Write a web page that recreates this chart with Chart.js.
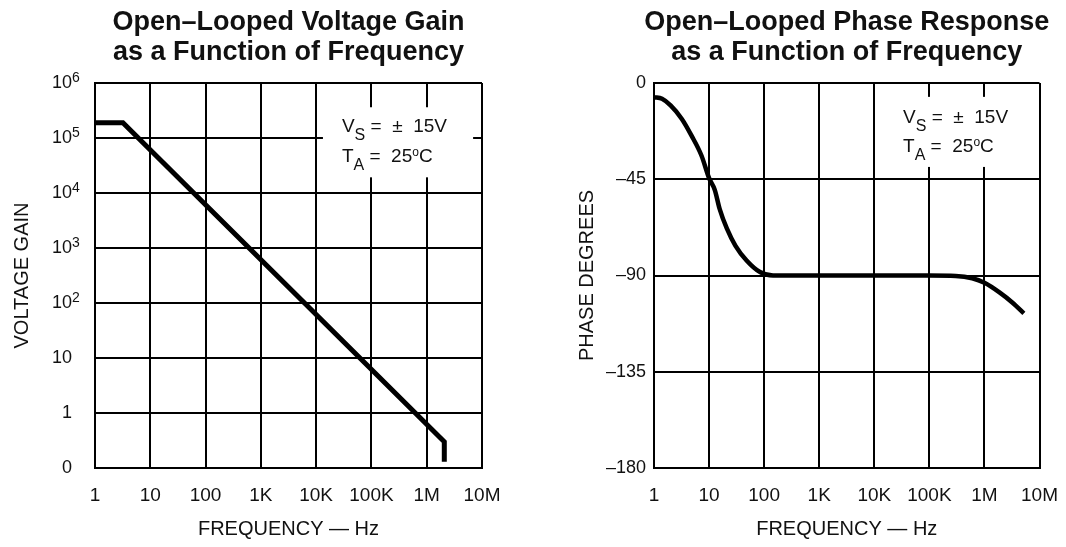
<!DOCTYPE html>
<html><head><meta charset="utf-8">
<script src="https://cdn.jsdelivr.net/npm/chart.js@4.4.0/dist/chart.umd.min.js"></script>
<style>
html,body{margin:0;padding:0;background:#fff;width:1066px;height:547px;overflow:hidden;position:relative;}
#c1{position:absolute;left:0;top:0;}
#c2{position:absolute;left:560px;top:0;}
</style></head><body>
<canvas id="c1" width="540" height="547"></canvas>
<canvas id="c2" width="514" height="547"></canvas>
<script>
// ---- data ----
const freqTicks = [1, 10, 100, 1e3, 1e4, 1e5, 1e6, 1e7];
const freqTickLabels = ['1', '10', '100', '1K', '10K', '100K', '1M', '10M'];
const gainTicks = [0.1, 1, 10, 100, 1e3, 1e4, 1e5, 1e6];
const gainTickLabels = ['0', '1', '10', '10', '10', '10', '10', '10'];
const gainTickExponents = ['', '', '', '2', '3', '4', '5', '6'];
const gainFreq = [1, 3.2, 2.08e6, 2.08e6];
const gainValues = [1.9e5, 1.9e5, 0.3, 0.13];
const phaseTicks = [0, -45, -90, -135, -180];
const phaseTickLabels = ['0', '–45', '–90', '–135', '–180'];
const phaseFreq = [1, 1.4, 2, 3.2, 4.8, 7.3, 10, 12.7, 15.6, 21, 30, 48, 84, 145, 1000, 10000, 100000, 300000, 600000, 1000000, 1900000, 3200000, 5200000];
const phaseValues = [-6.6, -7.4, -10.5, -16.8, -24.6, -34, -44.5, -50, -59, -68, -76, -83, -88.4, -90, -90, -90, -90, -90.2, -91.3, -93.4, -98, -102.6, -107.7];
const gainTitle = ['Open–Looped Voltage Gain', 'as a Function of Frequency'];
const phaseTitle = ['Open–Looped Phase Response', 'as a Function of Frequency'];
const noteLine1 = [['V', 0, 19], ['S', 8, 16], [' = ', 0, 19], [' ±', 0, 19], ['  15V', 0, 19]];
const noteLine2 = [['T', 0, 19], ['A', 8, 16], [' = ', 0, 19], [' 25', 0, 19], ['o', -6, 12], ['C', 0, 19]];

const FAMILY = '"Liberation Sans", Arial, Helvetica, sans-serif';
const INK = '#111';

function drawRuns(ctx, x, y, runs) {
  for (const [t, dy, s] of runs) {
    ctx.font = s + 'px ' + FAMILY;
    ctx.fillText(t, x, y + dy);
    x += ctx.measureText(t).width;
  }
}

const notePlugin = {
  id: 'note',
  beforeDatasetsDraw(chart, args, opts) {
    const a = chart.chartArea, ctx = chart.ctx;
    const W = a.right - a.left, H = a.bottom - a.top;
    ctx.save();
    ctx.fillStyle = '#fff';
    const b = opts.box;
    ctx.fillRect(a.left + b[0] * W, a.top + b[1] * H, (b[2] - b[0]) * W, (b[3] - b[1]) * H);
    ctx.fillStyle = INK;
    ctx.textBaseline = 'alphabetic';
    ctx.textAlign = 'left';
    const x0 = a.left + opts.x * W;
    drawRuns(ctx, x0, a.top + opts.y1 * H, noteLine1);
    drawRuns(ctx, x0, a.top + opts.y2 * H, noteLine2);
    ctx.restore();
  }
};

// let the title (centred over the plot) overhang the plot so it is not squeezed
const titleWidenPlugin = {
  id: 'titleWiden',
  afterLayout(chart) {
    const t = chart.titleBlock;
    if (t) { t.left -= 40; t.right += 40; t.width = t.right - t.left; }
  }
};

// draws the power-of-ten exponents next to the y tick labels
const expPlugin = {
  id: 'exps',
  afterDraw(chart) {
    const s = chart.scales.y, ctx = chart.ctx;
    const pad = s.options.ticks.padding;
    ctx.save();
    ctx.fillStyle = INK;
    ctx.font = '14px ' + FAMILY;
    ctx.textAlign = 'left';
    ctx.textBaseline = 'middle';
    gainTicks.forEach((v, i) => {
      const e = gainTickExponents[i];
      if (e) ctx.fillText(e, s.right - pad, s.getPixelForValue(v) - 5);
    });
    ctx.restore();
  }
};

function xScale() {
  return {
    type: 'logarithmic', min: 1, max: 1e7,
    afterBuildTicks: s => { s.ticks = freqTicks.map(v => ({ value: v })); },
    afterFit: s => { s.height = 79; },
    grid: { color: '#000', lineWidth: 2, drawTicks: false },
    border: { color: '#000', width: 2 },
    ticks: { autoSkip: false, maxRotation: 0, minRotation: 0, padding: 16, color: INK,
      font: { family: FAMILY, size: 19 }, callback: (v, i) => freqTickLabels[i] },
    title: { display: true, text: 'FREQUENCY — Hz', color: INK,
      font: { family: FAMILY, size: 20, lineHeight: 1.2 }, padding: { top: 0, bottom: 6 } }
  };
}

function titleOpts(text) {
  return { display: true, text: text, fullSize: false, color: INK,
    font: { family: FAMILY, size: 27, weight: 'bold', lineHeight: 30 / 27 },
    padding: { top: 8, bottom: 15 } };
}

new Chart(document.getElementById('c1'), {
  type: 'line',
  data: { datasets: [{
    data: gainFreq.map((f, i) => ({ x: f, y: gainValues[i] })),
    borderColor: '#000', borderWidth: 5, pointRadius: 0, tension: 0,
    borderJoinStyle: 'miter', fill: false
  }] },
  options: {
    responsive: false, animation: false, devicePixelRatio: 1,
    layout: { padding: { left: 0, right: 58, top: 0, bottom: 0 } },
    plugins: {
      legend: { display: false }, tooltip: { enabled: false },
      title: titleOpts(gainTitle),
      note: { box: [0.589, 0.063, 0.977, 0.245], x: 0.638, y1: 0.127, y2: 0.206 }
    },
    scales: {
      x: xScale(),
      y: {
        type: 'logarithmic', min: 0.1, max: 1e6,
        afterBuildTicks: s => { s.ticks = gainTicks.map(v => ({ value: v })); },
        afterFit: s => { s.width = 95; },
        grid: { color: '#000', lineWidth: 2, drawTicks: false },
        border: { color: '#000', width: 2 },
        ticks: { autoSkip: false, padding: 23, color: INK, font: { family: FAMILY, size: 18 },
          callback: (v, i) => gainTickLabels[i] },
        title: { display: true, text: 'VOLTAGE GAIN', color: INK,
          font: { family: FAMILY, size: 20, lineHeight: 1.2 }, padding: { top: 10, bottom: 0 } }
      }
    }
  },
  plugins: [notePlugin, expPlugin, titleWidenPlugin]
});

new Chart(document.getElementById('c2'), {
  type: 'line',
  data: { datasets: [{
    data: phaseFreq.map((f, i) => ({ x: f, y: phaseValues[i] })),
    borderColor: '#000', borderWidth: 4.5, pointRadius: 0,
    cubicInterpolationMode: 'monotone', fill: false
  }] },
  options: {
    responsive: false, animation: false, devicePixelRatio: 1,
    layout: { padding: { left: 0, right: 34, top: 0, bottom: 0 } },
    plugins: {
      legend: { display: false }, tooltip: { enabled: false },
      title: titleOpts(phaseTitle),
      note: { box: [0.619, 0.036, 0.96, 0.218], x: 0.646, y1: 0.105, y2: 0.178 }
    },
    scales: {
      x: xScale(),
      y: {
        type: 'linear', min: -180, max: 0,
        afterBuildTicks: s => { s.ticks = phaseTicks.slice().reverse().map(v => ({ value: v })); },
        afterFit: s => { s.width = 94; },
        grid: { color: '#000', lineWidth: 2, drawTicks: false },
        border: { color: '#000', width: 2 },
        ticks: { autoSkip: false, padding: 8, color: INK, font: { family: FAMILY, size: 18 },
          callback: v => phaseTickLabels[phaseTicks.indexOf(v)] },
        title: { display: true, text: 'PHASE DEGREES', color: INK,
          font: { family: FAMILY, size: 20, lineHeight: 1.2 }, padding: { top: 15, bottom: 0 } }
      }
    }
  },
  plugins: [notePlugin, titleWidenPlugin]
});
</script>
</body></html>
